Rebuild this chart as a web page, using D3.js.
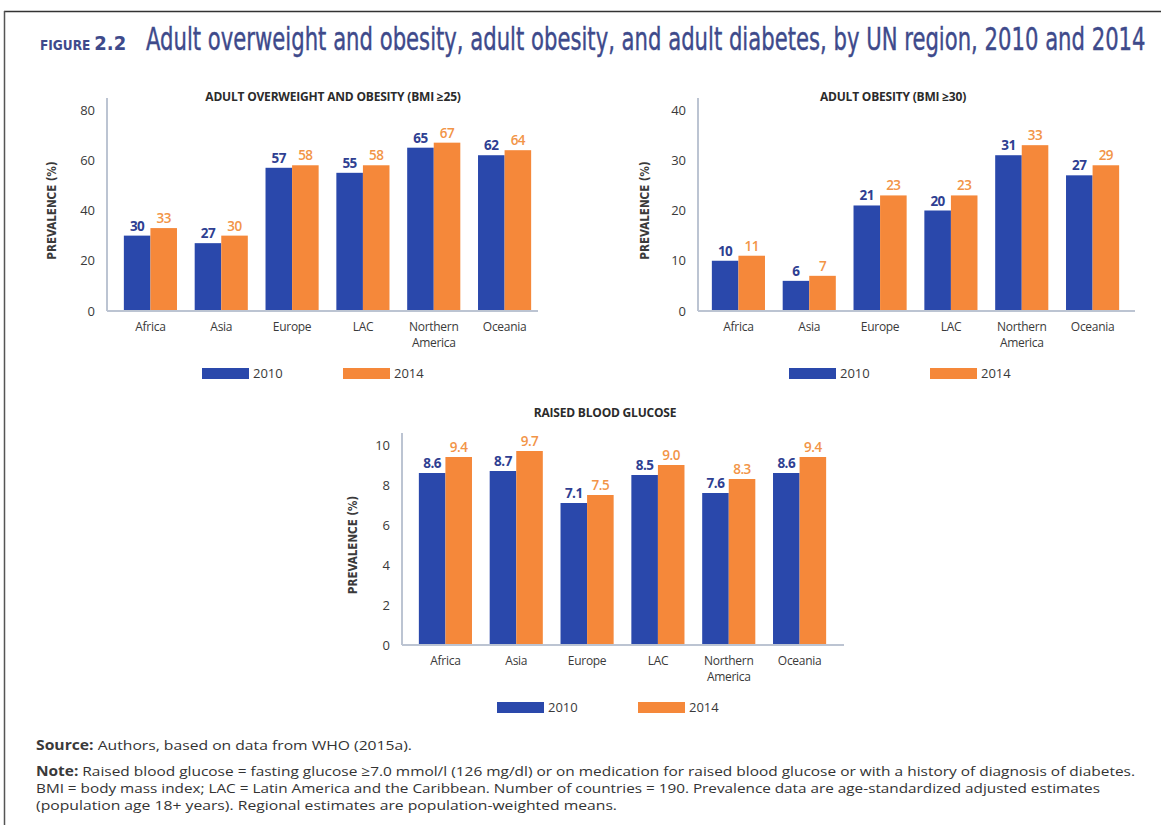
<!DOCTYPE html>
<html>
<head>
<meta charset="utf-8">
<script src="https://cdn.jsdelivr.net/npm/d3@7"></script>
<style>
  html, body { margin: 0; padding: 0; background: #fff; }
  svg { display: block; }
</style>
</head>
<body>
<svg id="fig" width="1161" height="825"></svg>
<script>
// Regions and series
const regions = ["Africa", "Asia", "Europe", "LAC", "Northern America", "Oceania"];
const years = ["2010", "2014"];

const overweight2010 = [30, 27, 57, 55, 65, 62];
const overweight2014 = [33, 30, 58, 58, 67, 64];
const obesity2010 = [10, 6, 21, 20, 31, 27];
const obesity2014 = [11, 7, 23, 23, 33, 29];
const glucose2010 = [8.6, 8.7, 7.1, 8.5, 7.6, 8.6];
const glucose2014 = [9.4, 9.7, 7.5, 9.0, 8.3, 9.4];

const overweightTicks = [0, 20, 40, 60, 80];
const obesityTicks = [0, 10, 20, 30, 40];
const glucoseTicks = [0, 2, 4, 6, 8, 10];

const panelTitles = ["ADULT OVERWEIGHT AND OBESITY (BMI \u226525)", "ADULT OBESITY (BMI \u226530)", "RAISED BLOOD GLUCOSE"];
const yLabel = "PREVALENCE (%)";

const colors = { "2010": "#2a48ab", "2014": "#f5883a" };
const labelColors = { "2010": "#2f3f92", "2014": "#f29447" };
const titleColor = "#3e4a8b";
const bodyFont = "'Open Sans', 'Noto Sans', sans-serif";
const narrowFont = "'Liberation Sans Narrow', 'DejaVu Sans Condensed', 'Roboto', sans-serif";

const svg = d3.select("#fig");

// frame lines
svg.append("line").attr("x1", 4).attr("x2", 1161).attr("y1", 11.5).attr("y2", 11.5)
  .attr("stroke", "#333").attr("stroke-width", 1.5);
svg.append("line").attr("x1", 4.5).attr("x2", 4.5).attr("y1", 11).attr("y2", 825)
  .attr("stroke", "#555").attr("stroke-width", 1.5);

// figure heading
const head = svg.append("g");
head.append("text").attr("x", 40).attr("y", 50)
  .attr("font-family", narrowFont).attr("font-weight", 700).attr("fill", titleColor)
  .call(t => {
    t.append("tspan").attr("font-size", 13.5).text("FIGURE");
    t.append("tspan").attr("font-size", 20).attr("dx", 4).text("2.2");
  });

// main heading, squeezed horizontally to the heading width
const mainTitle = head.append("text")
  .attr("font-family", narrowFont).attr("font-size", 32).attr("fill", titleColor)
  .attr("stroke", titleColor).attr("stroke-width", 0.4)
  .text("Adult overweight and obesity, adult obesity, and adult diabetes, by UN region, 2010 and  2014");
const natural = mainTitle.node().getComputedTextLength();
const squeeze = Math.min(1, 1000 / natural);
mainTitle.attr("transform", `translate(146,50) scale(${squeeze},1)`);

// panel layout
const panels = [
  { title: panelTitles[0], s2010: overweight2010, s2014: overweight2014, ticks: overweightTicks, fmt: d3.format("d"),
    axisX: 107, axisTop: 98, y0: 311, yTop: 110, r0: 115, r1: 540, baseEnd: 538,
    titleX: 333, titleY: 97, yLabelX: 52, legX: [202, 343] },
  { title: panelTitles[1], s2010: obesity2010, s2014: obesity2014, ticks: obesityTicks, fmt: d3.format("d"),
    axisX: 698, axisTop: 98, y0: 311, yTop: 110, r0: 703, r1: 1128, baseEnd: 1135,
    titleX: 893, titleY: 97, yLabelX: 645, legX: [789, 930] },
  { title: panelTitles[2], s2010: glucose2010, s2014: glucose2014, ticks: glucoseTicks, fmt: d3.format(".1f"),
    axisX: 402, axisTop: 433, y0: 645, yTop: 445, r0: 410, r1: 835, baseEnd: 844,
    titleX: 605, titleY: 413, yLabelX: 353, legX: [497, 638] }
];

panels.forEach(p => {
  const g = svg.append("g");
  const yMax = p.ticks[p.ticks.length - 1];
  const x0 = d3.scaleBand().domain(regions).range([p.r0, p.r1]).paddingInner(0.25).paddingOuter(0.125);
  const x1 = d3.scaleBand().domain(years).range([0, x0.bandwidth()]);
  const y = d3.scaleLinear().domain([0, yMax]).range([p.y0, p.yTop]);

  const rows = regions.map((r, i) => ({ region: r, values: [
    { year: "2010", v: p.s2010[i] }, { year: "2014", v: p.s2014[i] } ] }));

  // panel title
  g.append("text").attr("x", p.titleX).attr("y", p.titleY).attr("dy", "0.35em")
    .attr("text-anchor", "middle").attr("font-family", bodyFont).attr("font-weight", 700)
    .attr("font-size", 12).attr("letter-spacing", -0.2).attr("fill", "#2b2b2b").text(p.title);

  // y axis
  const ya = g.append("g").attr("transform", `translate(${p.axisX},0)`)
    .call(d3.axisLeft(y).tickValues(p.ticks).tickSize(0).tickPadding(12).tickFormat(d3.format("d")));
  ya.select(".domain").remove();
  ya.selectAll("text").attr("font-family", bodyFont).attr("font-size", 13).attr("fill", "#3a3a3a");

  // y axis title
  g.append("text")
    .attr("transform", `translate(${p.yLabelX},${(p.y0 + p.yTop) / 2}) rotate(-90)`)
    .attr("text-anchor", "middle").attr("dy", "0.35em")
    .attr("font-family", narrowFont).attr("font-weight", 700).attr("font-size", 11.5)
    .attr("fill", "#3a3a3a").text(yLabel);

  // bars
  const grp = g.selectAll(".grp").data(rows).join("g")
    .attr("transform", d => `translate(${x0(d.region)},0)`);
  grp.selectAll("rect").data(d => d.values).join("rect")
    .attr("x", d => x1(d.year)).attr("width", x1.bandwidth())
    .attr("y", d => y(d.v)).attr("height", d => p.y0 - y(d.v))
    .attr("fill", d => colors[d.year]);

  // value labels
  grp.selectAll("text.val").data(d => d.values).join("text").attr("class", "val")
    .attr("x", d => x1(d.year) + x1.bandwidth() / 2)
    .attr("y", d => y(d.v) - 5)
    .attr("text-anchor", "middle").attr("font-family", bodyFont)
    .attr("font-weight", d => d.year === "2010" ? 700 : 600)
    .attr("font-size", 13.5).attr("letter-spacing", -0.5)
    .attr("fill", d => labelColors[d.year])
    .text(d => p.fmt(d.v));

  // axis lines
  g.append("line").attr("x1", p.axisX).attr("x2", p.axisX).attr("y1", p.axisTop).attr("y2", p.y0)
    .attr("stroke", "#bcc4d2").attr("stroke-width", 2);
  g.append("line").attr("x1", p.axisX).attr("x2", p.baseEnd).attr("y1", p.y0).attr("y2", p.y0)
    .attr("stroke", "#bcc4d2").attr("stroke-width", 2);

  // category labels
  const xa = g.append("g").attr("transform", `translate(0,${p.y0})`)
    .call(d3.axisBottom(x0).tickSize(0).tickPadding(0));
  xa.select(".domain").remove();
  xa.selectAll("text").each(function(d) {
    const t = d3.select(this).text(null).attr("y", 0).attr("dy", null)
      .attr("font-family", bodyFont).attr("font-size", 12).attr("fill", "#3a3a3a")
      .attr("letter-spacing", -0.3);
    d.split(" ").forEach((w, i) => {
      t.append("tspan").attr("x", 0).attr("y", 19.5 + i * 16).text(w);
    });
  });

  // legend
  years.forEach((yr, i) => {
    g.append("rect").attr("x", p.legX[i]).attr("y", p.y0 + 57).attr("width", 47).attr("height", 11)
      .attr("fill", colors[yr]);
    g.append("text").attr("x", p.legX[i] + 51).attr("y", p.y0 + 62.5).attr("dy", "0.35em")
      .attr("font-family", bodyFont).attr("font-size", 13).attr("fill", "#3a3a3a").text(yr);
  });
});

// source and notes
const notes = [
  { y: 750, bold: "Source:", rest: " Authors, based on data from WHO (2015a).", w: 376 },
  { y: 776, bold: "Note:", rest: " Raised blood glucose = fasting glucose \u22657.0 mmol/l (126 mg/dl) or on medication for raised blood glucose or with a history of diagnosis of diabetes.", w: 1099 },
  { y: 793, bold: "", rest: "BMI = body mass index; LAC = Latin America and the Caribbean. Number of countries = 190. Prevalence data are age-standardized adjusted estimates", w: 1064 },
  { y: 810, bold: "", rest: "(population age 18+ years). Regional estimates are population-weighted means.", w: 581 }
];
notes.forEach(n => {
  const t = svg.append("text").attr("x", 36).attr("y", n.y)
    .attr("font-family", bodyFont).attr("font-size", 13.5).attr("fill", "#333")
    .attr("textLength", n.w).attr("lengthAdjust", "spacingAndGlyphs");
  if (n.bold) t.append("tspan").attr("font-weight", 700).attr("fill", "#3a3a3a").text(n.bold);
  t.append("tspan").text(n.rest);
});
</script>
</body>
</html>
